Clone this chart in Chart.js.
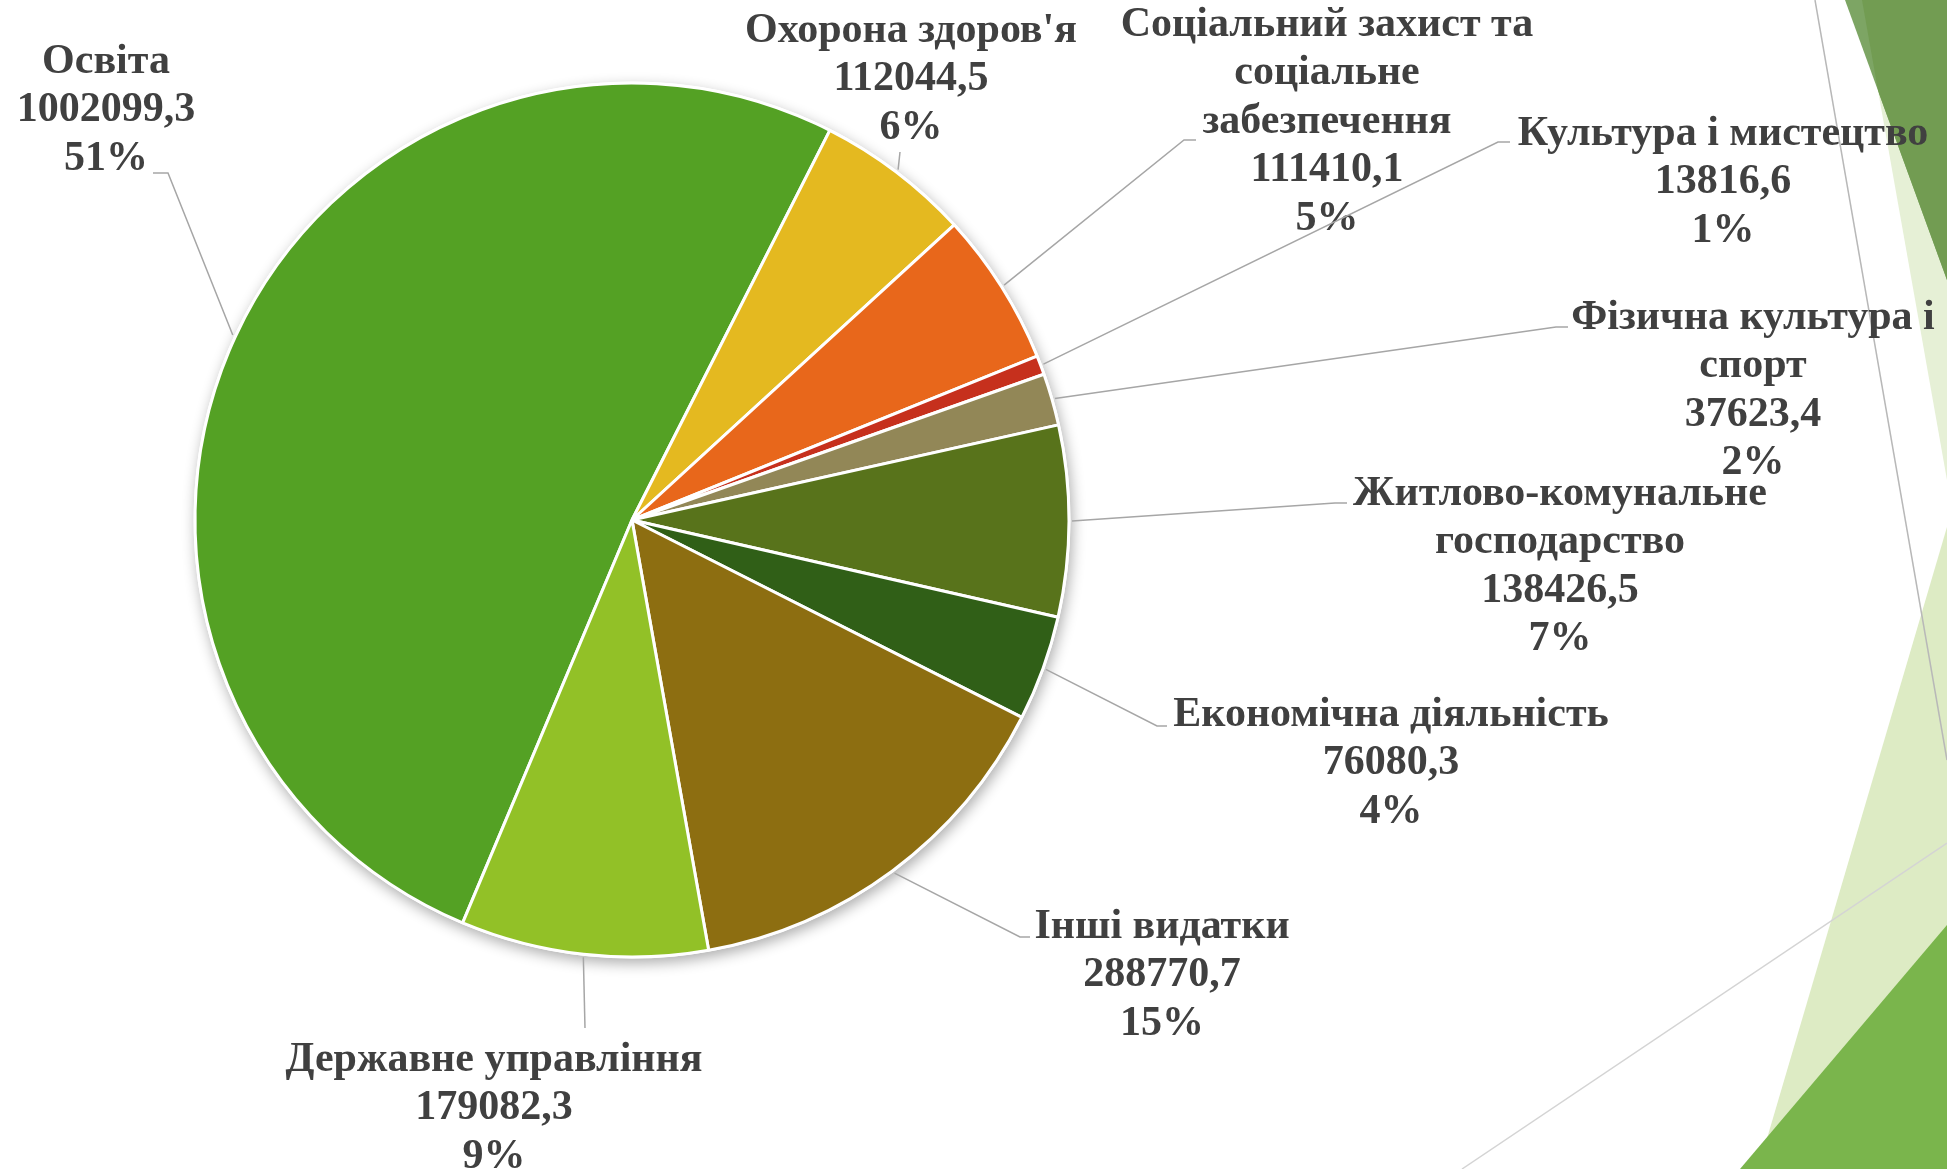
<!DOCTYPE html>
<html lang="uk">
<head>
<meta charset="utf-8">
<title>Видатки бюджету</title>
<script src="https://cdn.jsdelivr.net/npm/chart.js@4.4.1/dist/chart.umd.min.js"></script>
<style>
    html, body { margin: 0; padding: 0; background: #ffffff; }
    #wrap { width: 1947px; height: 1169px; }
</style>
</head>
<body>
<div id="wrap"><canvas id="chartVidatky" width="1947" height="1169"></canvas></div>
<script>
// ===== ДАНІ =====
const categories = [
    ['Освіта'],
    ["Охорона здоров'я"],
    ['Соціальний захист та', 'соціальне', 'забезпечення'],
    ['Культура і мистецтво'],
    ['Фізична культура і', 'спорт'],
    ['Житлово-комунальне', 'господарство'],
    ['Економічна діяльність'],
    ['Інші видатки'],
    ['Державне управління']
];
const values = [1002099.3, 112044.5, 111410.1, 13816.6, 37623.4, 138426.5, 76080.3, 288770.7, 179082.3];
const percentLabels = ['51%', '6%', '5%', '1%', '2%', '7%', '4%', '15%', '9%'];

// ===== ОФОРМЛЕННЯ =====
const sliceColors = ['#54a124', '#e4b920', '#e8671b', '#c6301d', '#928757', '#58731b', '#305f17', '#8d6e11', '#92c127'];

// положення підписів відносно центру кола (px): текст і злам виноски
const labelLayout = [
    { dx: -526, dy: -458, line: [[-464, -347], [-479, -347]] },
    { dx: 279,  dy: -489, line: [[268, -368]] },
    { dx: 695,  dy: -495, line: [[552, -380], [564, -380]] },
    { dx: 1091, dy: -386, line: [[866, -378], [878, -378]] },
    { dx: 1121, dy: -202, line: [[924, -193], [936, -193]] },
    { dx: 928,  dy: -26,  line: [[703, -17], [715, -17]] },
    { dx: 759,  dy: 195,  line: [[525, 206], [535, 206]] },
    { dx: 530,  dy: 407,  line: [[388, 417], [398, 417]] },
    { dx: -138, dy: 540,  line: [[-47, 508]] }
];
const LINE_H = 48.5;
const LABEL_FONT = 'bold 42px "Liberation Serif", "Times New Roman", serif';

function formatarValor(v) {
    return String(v).replace('.', ',');
}

// фон слайда: зелені трикутники праворуч
const fonSlaidu = {
    id: 'fonSlaidu',
    beforeDraw(chart) {
        const ctx = chart.ctx;
        const W = chart.width, H = chart.height;
        const poly = (pts, color) => {
            ctx.beginPath();
            pts.forEach((p, i) => i ? ctx.lineTo(p[0], p[1]) : ctx.moveTo(p[0], p[1]));
            ctx.closePath();
            ctx.fillStyle = color;
            ctx.fill();
        };
        ctx.save();
        ctx.fillStyle = '#ffffff';
        ctx.fillRect(0, 0, W, H);

        const svitlyi = [[W - 85, 0], [W, 0], [W, 480]];
        const temnyi = [[W - 102, 0], [W, 0], [W, 280]];
        poly(svitlyi, '#e6f0d6');
        poly(temnyi, '#7da564');
        ctx.save();
        ctx.beginPath();
        svitlyi.forEach((p, i) => i ? ctx.lineTo(p[0], p[1]) : ctx.moveTo(p[0], p[1]));
        ctx.closePath();
        ctx.clip();
        poly(temnyi, '#729c52');
        ctx.restore();

        poly([[W, 527], [W, H], [W - 189, H]], '#ddebc4');
        poly([[W, 925], [W, H], [W - 207, H]], '#7ab54c');

        ctx.lineWidth = 1.5;
        ctx.strokeStyle = '#b8b8b8';
        ctx.beginPath(); ctx.moveTo(W - 132, 0); ctx.lineTo(W, 760); ctx.stroke();
        ctx.strokeStyle = '#d4d4d4';
        ctx.beginPath(); ctx.moveTo(W, 843); ctx.lineTo(W - 485, H); ctx.stroke();
        ctx.restore();
    }
};

// тінь під колом
const tinKola = {
    id: 'tinKola',
    beforeDatasetsDraw(chart) {
        const arc = chart.getDatasetMeta(0).data[0];
        if (!arc) return;
        const p = arc.getProps(['x', 'y', 'outerRadius'], true);
        const ctx = chart.ctx;
        ctx.save();
        ctx.shadowColor = 'rgba(0,0,0,0.32)';
        ctx.shadowBlur = 14;
        ctx.shadowOffsetX = 2;
        ctx.shadowOffsetY = 5;
        ctx.beginPath();
        ctx.arc(p.x, p.y, p.outerRadius + 1.5, 0, Math.PI * 2);
        ctx.fillStyle = '#ffffff';
        ctx.fill();
        ctx.restore();
    }
};

// підписи з виносками
const pidpysy = {
    id: 'pidpysy',
    afterDatasetsDraw(chart) {
        const ctx = chart.ctx;
        const arcs = chart.getDatasetMeta(0).data;
        ctx.save();
        arcs.forEach((arc, i) => {
            const p = arc.getProps(['x', 'y', 'startAngle', 'endAngle', 'outerRadius'], true);
            const mid = (p.startAngle + p.endAngle) / 2;
            const lp = labelLayout[i];

            ctx.beginPath();
            ctx.moveTo(p.x + Math.cos(mid) * (p.outerRadius + 3), p.y + Math.sin(mid) * (p.outerRadius + 3));
            lp.line.forEach(pt => ctx.lineTo(p.x + pt[0], p.y + pt[1]));
            ctx.strokeStyle = '#a6a6a6';
            ctx.lineWidth = 1.5;
            ctx.stroke();

            const rows = [...categories[i], formatarValor(values[i]), percentLabels[i]];
            ctx.font = LABEL_FONT;
            ctx.fillStyle = '#404040';
            ctx.textAlign = 'center';
            ctx.textBaseline = 'middle';
            rows.forEach((t, k) => ctx.fillText(t, p.x + lp.dx, p.y + lp.dy + k * LINE_H));
        });
        ctx.restore();
    }
};

document.addEventListener('DOMContentLoaded', () => {
    const ctx = document.getElementById('chartVidatky').getContext('2d');
    new Chart(ctx, {
        type: 'pie',
        data: {
            labels: categories,
            datasets: [{
                data: values,
                backgroundColor: sliceColors,
                borderColor: '#ffffff',
                borderWidth: 3,
                hoverOffset: 0,
                radius: 437
            }]
        },
        options: {
            responsive: false,
            animation: false,
            devicePixelRatio: 1,
            rotation: 202.8,
            layout: { padding: { left: 150, right: 833, top: 40, bottom: 169 } },
            plugins: { legend: { display: false }, tooltip: { enabled: false } },
            events: []
        },
        plugins: [fonSlaidu, tinKola, pidpysy]
    });
});
</script>
</body>
</html>
